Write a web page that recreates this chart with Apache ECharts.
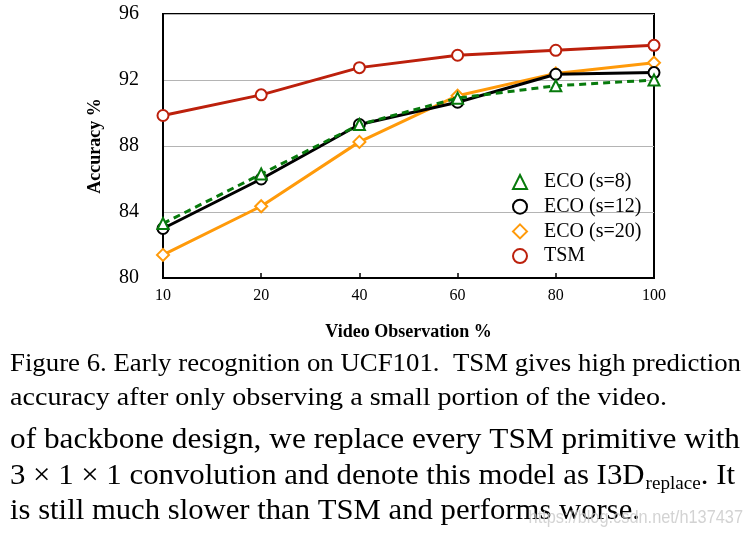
<!DOCTYPE html>
<html>
<head>
<meta charset="utf-8">
<script src="https://cdn.jsdelivr.net/npm/echarts@6/dist/echarts.min.js"></script>
<style>
html,body{margin:0;padding:0;background:#fff;}
#chart{width:753px;height:534px;}
</style>
</head>
<body>
<div id="chart"></div>
<script>
// ---- data ----
const categories = ['10', '20', '40', '60', '80', '100'];
const eco8  = [83.3, 86.3, 89.3, 90.9, 91.65, 92.0];
const eco12 = [83.0, 86.0, 89.3, 90.65, 92.35, 92.45];
const eco20 = [81.4, 84.35, 88.25, 91.05, 92.4, 93.05];
const tsm   = [89.85, 91.1, 92.75, 93.5, 93.8, 94.1];
const seriesNames = ['ECO (s=8)', 'ECO (s=12)', 'ECO (s=20)', 'TSM'];
const yMin = 80, yMax = 96, yStep = 4;
const xName = 'Video Observation %';
const yName = 'Accuracy %';
const captionLines = [
  'Figure 6. Early recognition on UCF101.  TSM gives high prediction',
  'accuracy after only observing a small portion of the video.'
];
const bodyLines = [
  'of backbone design, we replace every TSM primitive with',
  '3 \u00d7 1 \u00d7 1 convolution and denote this model as I3D',
  'is still much slower than TSM and performs worse.'
];
const bodySub = 'replace';
const bodyTail = '. It';
const watermark = 'https://blog.csdn.net/h137437';

// ---- styles ----
const SERIF = "'Liberation Serif', 'Times New Roman', serif";
const SANS = "'Liberation Sans', Arial, sans-serif";
const C_GREEN = '#077A0C';
const C_BLACK = '#000000';
const C_ORANGE = '#FF9A0A';
const C_RED = '#BC200C';

const cv = document.createElement('canvas').getContext('2d');
function tw(text, size) { cv.font = size + 'px ' + SERIF; return cv.measureText(text).width; }

const capSize = 25, bodySize = 29, subSize = 18;
const LEFT = 10;

function txt(text, x, baseline, size, scale) {
  return {
    type: 'text', x: x, y: baseline - 0.34 * size, scaleX: scale, silent: true,
    style: { text: text, x: 0, y: 0, font: size + 'px ' + SERIF, fill: '#000',
             textAlign: 'left', textVerticalAlign: 'middle', verticalAlign: 'middle' }
  };
}
function fitLine(text, baseline, size, right) {
  return txt(text, LEFT, baseline, size, (right - LEFT) / tw(text, size));
}

const graphics = [];
graphics.push(fitLine(captionLines[0], 373, capSize, 741));
graphics.push(fitLine(captionLines[1], 407, capSize, 667));
graphics.push(fitLine(bodyLines[0], 450, bodySize, 740));
// line with subscript
const rA = tw(bodyLines[1], bodySize), rB = tw(bodySub, subSize), rC = tw(bodyTail, bodySize);
const s4 = (735 - LEFT) / (rA + 1 + rB + rC);
graphics.push(txt(bodyLines[1], LEFT, 486, bodySize, s4));
graphics.push(txt(bodySub, LEFT + (rA + 1) * s4, 490, subSize, s4));
graphics.push(txt(bodyTail, LEFT + (rA + 1 + rB) * s4, 486, bodySize, s4));
graphics.push(fitLine(bodyLines[2], 521, bodySize, 640));
graphics.push({
  type: 'text', x: 743, y: 518, scaleX: 0.86, silent: true, z: 100,
  style: { text: watermark, x: 0, y: 0, font: '19px ' + SANS,
           fill: 'rgba(200,200,200,0.8)', textAlign: 'right', textVerticalAlign: 'middle', verticalAlign: 'middle' }
});

function lineSeries(name, data, color, symbol, size, dashed, z) {
  return {
    name: name, type: 'line', data: data, z: z,
    symbol: symbol, symbolSize: size, showSymbol: true,
    lineStyle: { color: color, width: 3, type: dashed ? [7, 5] : 'solid' },
    itemStyle: { color: color, borderColor: color, borderWidth: 3 },
    emphasis: { disabled: true },
    animation: false
  };
}

const chart = echarts.init(document.getElementById('chart'), null, { renderer: 'canvas' });
chart.setOption({
  animation: false,
  backgroundColor: '#fff',
  grid: { left: 163, right: 99, top: 14, bottom: 256, show: true, borderColor: '#000', borderWidth: 2, backgroundColor: 'transparent' },
  xAxis: {
    type: 'category', data: categories, boundaryGap: false,
    name: xName, nameLocation: 'middle', nameGap: 45,
    nameTextStyle: { fontFamily: SERIF, fontSize: 18, fontWeight: 'bold', color: '#000' },
    axisLine: { lineStyle: { color: '#000', width: 2 } },
    axisTick: { show: true, inside: true, length: 5, alignWithLabel: true, lineStyle: { color: '#000', width: 1.5 } },
    axisLabel: { fontFamily: SERIF, fontSize: 16, color: '#000', margin: 10 },
    splitLine: { show: false }
  },
  yAxis: {
    type: 'value', min: yMin, max: yMax, interval: yStep,
    name: yName, nameLocation: 'middle', nameGap: 59, nameRotate: 90,
    nameTextStyle: { fontFamily: SERIF, fontSize: 18, fontWeight: 'bold', color: '#000' },
    axisLine: { show: true, lineStyle: { color: '#000', width: 2 } },
    axisTick: { show: false },
    axisLabel: { fontFamily: SERIF, fontSize: 20, color: '#000', margin: 24, padding: [6, 0, 0, 0] },
    splitLine: { show: true, lineStyle: { color: '#b4b4b4', width: 1 } }
  },
  legend: {
    orient: 'vertical', left: 507, top: 167,
    itemWidth: 14, itemHeight: 14, itemGap: 4.7,
    itemStyle: { borderWidth: 3 },
    textStyle: { fontFamily: SERIF, fontSize: 20, color: '#000', padding: [0, 0, 0, 12] },
    data: [
      { name: seriesNames[0], icon: 'emptyTriangle' },
      { name: seriesNames[1], icon: 'emptyCircle' },
      { name: seriesNames[2], icon: 'emptyDiamond' },
      { name: seriesNames[3], icon: 'emptyCircle' }
    ],
    selectedMode: false
  },
  series: [
    lineSeries(seriesNames[2], eco20, C_ORANGE, 'emptyDiamond', 12, false, 2),
    lineSeries(seriesNames[1], eco12, C_BLACK, 'emptyCircle', 11, false, 3),
    lineSeries(seriesNames[0], eco8, C_GREEN, 'emptyTriangle', 11, true, 4),
    lineSeries(seriesNames[3], tsm, C_RED, 'emptyCircle', 11, false, 5)
  ],
  graphic: graphics
});
</script>
</body>
</html>
